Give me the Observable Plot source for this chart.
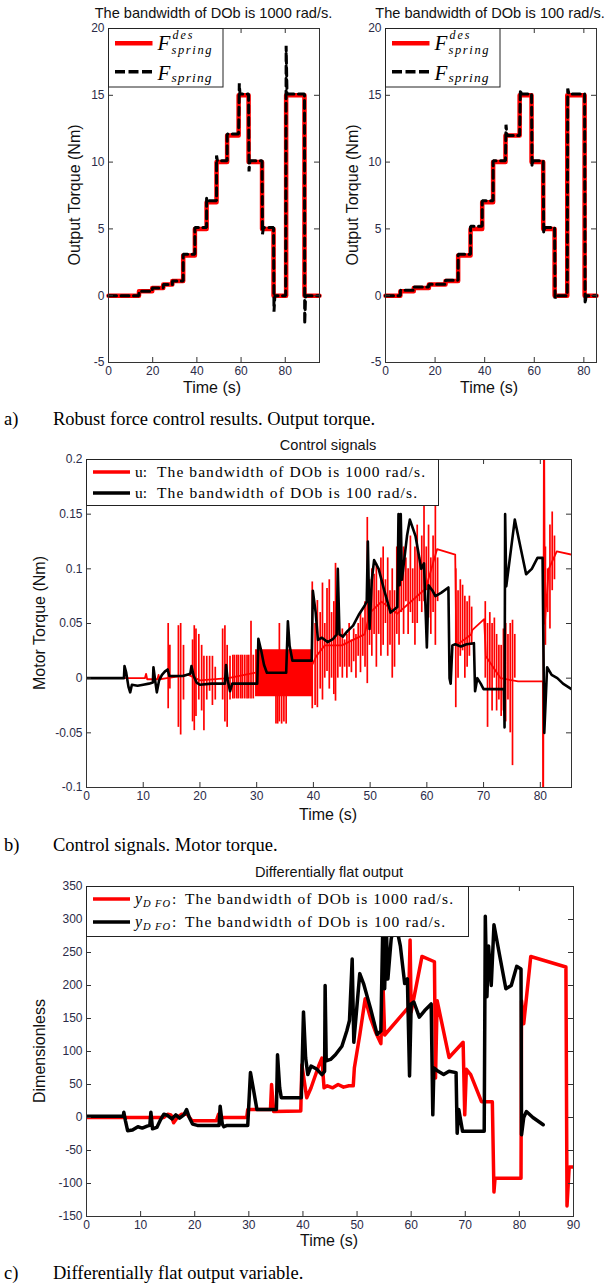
<!DOCTYPE html>
<html><head><meta charset="utf-8">
<script src="https://cdn.jsdelivr.net/npm/d3@7"></script>
<script src="https://cdn.jsdelivr.net/npm/@observablehq/plot@0.6"></script>
<style>
body{margin:0;background:#fff;}
#page{position:relative;width:605px;height:1283px;overflow:hidden;font-family:"Liberation Sans",Arial,sans-serif;background:#fff;}
.t{position:absolute;white-space:pre;line-height:1;color:#111;}
.cap{position:absolute;white-space:pre;line-height:1;font-family:"Liberation Serif","Times New Roman",serif;font-size:18.5px;color:#000;}
</style></head><body><div id="page"></div>
<script>
// ---------- DATA ----------
// (a) left: DOb bandwidth 1000 rad/s  [time s, torque Nm]
const fDes1000 = [[0,0],[13.8,0.33],[19.8,0.58],[24.8,0.83],[28.9,1.1],[33.8,3],[39.1,5],[44.4,7],[48.9,10],[53.7,12],[58.9,15],[63.4,10],[69.5,5],[74.7,0],[80.4,15],[88.7,0],[95.5,0]];
const fSpring1000 = [[0,0],[13.8,0],[13.8,0.33],[19.8,0.33],[19.8,0.58],[24.8,0.58],[24.8,0.83],[28.9,0.83],[28.9,1.1],[33.8,1.1],[33.8,3.1],[39.1,3.1],[39.1,5.1],[44.4,5.1],[44.4,7.3],[44.8,7.1],[48.9,7.1],[48.9,10.5],[49.3,10.1],[53.7,10.1],[53.7,12.1],[58.9,12.1],[59.2,15.9],[59.5,15.1],[63.4,15.1],[63.6,9.3],[64,10.1],[69.5,10.1],[69.7,4.6],[70.1,5.1],[74.7,5.1],[74.9,-1.2],[75.3,0],[80.2,0],[80.4,18.7],[80.8,15.1],[88.7,15.1],[88.8,-2.1],[89.2,0],[95.5,0]];
// (a) right: DOb bandwidth 100 rad/s
const fDes100 = [[0,0],[6,0.33],[11.4,0.58],[17.5,0.83],[24.2,1.1],[29.3,3],[34.3,5],[39,7],[43.4,10],[48.4,12],[54.1,15],[58.9,10],[63.6,5],[68.2,0],[73.3,15],[80.3,0],[85.1,0]];
const fSpring100 = [[0,0],[6,0],[6,0.4],[11.4,0.4],[11.4,0.65],[17.5,0.65],[17.5,0.85],[24.2,0.85],[24.2,1.15],[29.3,1.15],[29.3,3.1],[34.3,3.1],[34.3,5.2],[39,5.2],[39,7.1],[43.4,7.1],[43.4,10.1],[48.4,10.1],[48.6,12.8],[49,12],[54.1,12],[54.4,15.4],[54.8,15.1],[58.9,15.1],[59.1,9.7],[59.5,10.1],[63.6,10.1],[63.8,4.7],[64.2,5.1],[68.2,5.1],[68.4,-0.2],[68.8,0],[73.3,0],[73.5,15.5],[74,15.1],[80.3,15.1],[80.5,-0.6],[80.9,0],[85.1,0]];

// (b) control signals, motor torque [time s, Nm]
const u1000Line = [[0,0],[10.3,0],[10.5,0.004],[10.7,-0.001],[12.5,-0.001],[12.7,0.003],[12.9,-0.001],[14.2,0],[18,0.003],[20,-0.002],[25,0],[29.8,0.005],[39.6,0.01],[40.5,0.02],[42,0.03],[45,0.03],[49,0.04],[50,0.06],[52,0.07],[54.8,0.059],[59.8,0.082],[61.8,0.118],[65,0.113],[65.2,0.03],[67.8,0.04],[68,0.044],[70.1,0.054],[70.4,0.02],[73,0],[76.1,-0.003],[80.45,-0.003],[80.5,-0.15],[80.65,0.26],[80.8,0.05],[81.5,0.1],[82.9,0.116],[85.5,0.113]];
// oscillation bursts of the 1000 rad/s signal: [time, low, high]
const u1000Spikes = [[14.4,-0.028,0.05],[14.7,-0.01,0.03],[16.2,-0.045,0.048],[16.6,-0.052,0.05],[17.1,-0.02,0.03],[18.7,-0.04,0.035],[19.0,-0.048,0.048],[19.3,-0.035,0.045],[19.8,-0.02,0.04],[20.3,-0.03,0.03],[20.7,-0.048,0.02],[21.2,-0.02,0.02],[21.7,-0.012,0.02],[22.2,-0.025,0.02],[22.7,-0.02,0.01],[24.0,-0.02,0.045],[24.4,-0.04,0.048],[24.8,-0.045,0.03],[25.3,-0.02,0.02],[25.8,-0.019,0.021],[26.1,-0.019,0.021],[26.5,-0.019,0.021],[26.8,-0.019,0.021],[27.2,-0.019,0.021],[27.5,-0.019,0.021],[27.9,-0.019,0.021],[28.3,-0.019,0.021],[28.6,-0.019,0.021],[29.0,-0.019,0.052],[29.4,-0.019,0.021],[33.4,-0.042,0.02],[33.7,-0.042,0.02],[34.0,-0.04,0.05],[34.4,-0.042,0.02],[34.8,-0.04,0.02],[35.2,-0.042,0.02],[39.8,-0.028,0.088],[40.3,-0.025,0.05],[40.7,-0.027,0.071],[41.2,-0.01,0.06],[41.6,-0.02,0.087],[42.0,0.0,0.05],[42.4,0.006,0.082],[42.8,-0.01,0.09],[43.2,0.0,0.06],[43.6,-0.015,0.07],[43.9,-0.021,0.105],[44.3,0.0,0.05],[44.7,0.01,0.04],[45.1,0.0,0.045],[45.5,0.01,0.035],[45.9,0.0,0.04],[46.3,0.01,0.05],[46.7,0.005,0.035],[47.1,0.015,0.045],[47.5,0.0,0.04],[47.9,0.02,0.05],[48.3,0.005,0.06],[48.7,0.02,0.055],[49.1,0.01,0.07],[49.5,-0.005,0.147],[49.9,0.03,0.09],[50.3,0.02,0.1],[50.7,0.04,0.095],[51.1,0.01,0.105],[51.5,0.04,0.08],[51.9,0.02,0.11],[52.3,0.03,0.12],[52.7,0.05,0.09],[53.1,0.02,0.11],[53.5,0.03,0.08],[53.9,0.0,0.1],[54.3,0.01,0.08],[54.7,0.04,0.12],[55.1,0.03,0.09],[55.5,0.06,0.1],[55.9,0.04,0.12],[56.3,0.07,0.11],[56.7,0.04,0.1],[57.1,0.06,0.13],[57.5,0.05,0.1],[57.9,0.03,0.12],[58.3,0.05,0.14],[58.7,0.07,0.11],[59.1,0.06,0.13],[59.5,0.07,0.16],[59.9,0.08,0.12],[60.3,0.055,0.14],[60.7,0.04,0.11],[61.1,0.06,0.13],[61.5,0.03,0.16],[61.9,0.07,0.11],[65.1,-0.027,0.1],[65.5,0.0,0.08],[65.9,0.02,0.09],[66.3,0.025,0.085],[66.7,0.0,0.075],[67.1,0.01,0.07],[67.5,0.02,0.075],[67.9,0.03,0.065],[70.3,0.0,0.07],[70.7,-0.045,0.05],[71.1,-0.01,0.06],[71.5,-0.03,0.05],[71.9,0.0,0.055],[72.3,-0.03,0.04],[72.7,-0.02,0.03],[73.1,-0.035,0.03],[73.5,-0.03,0.045],[73.9,-0.04,0.05],[74.3,-0.02,0.04],[74.7,-0.05,0.05],[75.1,-0.08,0.053],[75.5,0.0,0.04],[80.9,0.03,0.12],[81.3,0.06,0.1],[81.7,0.045,0.14],[82.1,0.08,0.152],[82.5,0.09,0.13]];
// dense oscillation band 29.8–40 s of the 1000 rad/s signal
const u1000BandT = [29.8, 40.0];
const u1000BandLo = [-0.017, -0.017];
const u1000BandHi = [0.026, 0.026];
const u100Line = [[0,0],[6.6,0],[6.7,0.011],[7.0,0.005],[7.4,-0.008],[7.7,-0.013],[8.0,-0.006],[9,-0.007],[10,-0.006],[11,-0.005],[11.7,-0.004],[11.8,0.010],[12.1,-0.002],[12.4,-0.013],[12.8,-0.002],[13.3,0.003],[13.8,0.006],[14.3,0.008],[14.6,0.002],[16,0.002],[17,0.002],[18.3,0.004],[18.5,0.011],[18.9,0.002],[19.4,-0.004],[20,-0.006],[22,-0.005],[24.4,-0.005],[24.6,0.012],[24.9,-0.002],[25.3,-0.012],[25.7,-0.005],[30.1,-0.005],[30.3,0.036],[30.8,0.025],[31.3,0.012],[31.8,0.005],[35.2,0.005],[35.5,0.052],[35.8,0.03],[36.3,0.016],[39.7,0.016],[39.9,0.08],[40.4,0.06],[40.8,0.035],[41.5,0.037],[42.5,0.033],[43.5,0.036],[44.1,0.04],[44.3,0.1],[44.6,0.04],[45.2,0.038],[46,0.043],[47,0.048],[48,0.058],[49,0.066],[49.4,0.07],[49.6,0.125],[49.9,0.045],[50.3,0.09],[50.7,0.108],[51.5,0.1],[52.5,0.08],[53.6,0.06],[54.8,0.065],[55.0,0.15],[55.2,0.085],[55.4,0.15],[55.6,0.09],[56.5,0.13],[57,0.145],[58,0.13],[59,0.1],[59.5,0.105],[60,0.028],[60.3,0.085],[61,0.08],[61.5,0.075],[62.5,0.078],[63.8,0.083],[64,0.0],[64.2,-0.005],[64.5,0.03],[65,0.031],[66,0.029],[67,0.031],[68.3,0.032],[68.5,-0.012],[68.9,0.0],[69.5,-0.005],[70,-0.01],[73.6,-0.01],[73.7,-0.045],[73.8,0.15],[74,0.084],[75.5,0.145],[76.5,0.12],[77.5,0.095],[78.5,0.1],[79.5,0.11],[80.4,0.11],[80.7,-0.05],[81.2,0.01],[82,0.003],[83,0.0],[84,-0.005],[85.5,-0.01]];

// (c) differentially flat output [time s, dimensionless]
const y1000 = [[0,0],[14.3,0],[15,5],[15.6,4],[16.1,-8],[16.8,0],[17.6,5],[18.6,5],[19.5,-5],[24,-5],[24.4,5],[25,0],[29.6,0],[29.8,12],[34,12],[34.2,50],[34.6,9],[39.6,10],[39.8,80],[40.7,30],[41.5,45],[42.9,78],[43.5,90],[43.9,45],[44.5,48],[45.5,45],[46.5,50],[47.5,46],[48.5,48],[49.3,48],[49.5,75],[50.5,125],[51.5,180],[52.5,150],[53.5,128],[54.4,112],[54.8,200],[55.1,125],[59.5,167],[59.8,269],[60,160],[62,244],[64.3,236],[64.5,60],[64.8,177],[67,91],[69.6,114],[69.9,4],[70.2,73],[71,65],[73,24],[75,24],[75.3,-113],[75.5,-92],[80.3,-92],[80.4,177],[80.8,142],[82.1,244],[88.6,228],[88.8,-134],[89.2,-75],[90,-75]];
const y100 = [[0,2],[6.8,2],[6.9,8],[7.2,-5],[7.6,-20],[8.5,-19],[9.5,-14],[10.3,-16],[11.2,-13],[11.7,-12],[11.9,8],[12.2,-17],[13,-15],[13.7,-3],[14.3,5],[15,3],[15.8,-2],[16.5,4],[17.2,-1],[18,4],[18.5,12],[19,0],[19.6,-10],[20.5,-12],[24.5,-12],[24.7,17],[25.1,-10],[25.4,-14],[26,-12],[29.8,-12],[30.3,68],[30.8,45],[31.5,12],[35.1,12],[35.3,95],[35.7,45],[36,30],[39.7,30],[40.1,160],[40.5,90],[40.9,65],[41.5,78],[42.6,73],[43.5,65],[44,70],[44.1,200],[44.3,86],[45.1,88],[46,95],[47.2,108],[48.1,131],[48.6,147],[49.1,240],[49.4,114],[50.5,218],[51.2,203],[52.5,165],[53.7,126],[54.4,131],[54.8,310],[55.1,195],[55.4,290],[55.7,210],[56.3,270],[57,300],[58,260],[58.8,203],[59.3,210],[59.7,63],[60,172],[60.5,175],[61.5,152],[62.5,162],[63.7,172],[64,4],[64.2,75],[65,70],[66,65],[67,70],[68.3,68],[68.5,-24],[68.8,12],[69.5,-21],[73.5,-21],[73.7,305],[74,183],[74.3,260],[74.8,200],[75.3,292],[76.5,239],[77.5,195],[78.5,200],[79.5,229],[80.3,225],[80.4,-26],[80.8,0],[81.3,9],[82.5,0],[84.4,-11]];

// ticks
const xTicksA = [0,20,40,60,80];
const yTicksA = [-5,0,5,10,15,20];
const xTicksB = [0,10,20,30,40,50,60,70,80];
const yTicksB = [-0.1,-0.05,0,0.05,0.1,0.15,0.2];
const xTicksC = [0,10,20,30,40,50,60,70,80,90];
const yTicksC = [-150,-100,-50,0,50,100,150,200,250,300,350];

// ---------- DRAW ----------
const page = document.getElementById("page");
const P = arr => arr.map(([t, v]) => ({t, v}));
const ink = "#333";
const tickInk = "#2b2b48";

function chart({left, top, width, height, mt, mr, mb, ml, xd, yd, xt, yt, marks}) {
  const W = width - ml - mr, H = height - mt - mb, L = 5;
  const svg = Plot.plot({
    width, height, marginTop: mt, marginRight: mr, marginBottom: mb, marginLeft: ml,
    style: {background: "transparent", fontFamily: "'Liberation Sans', Arial, sans-serif", fontSize: "12px", overflow: "visible"},
    x: {domain: xd, label: null},
    y: {domain: yd, label: null},
    marks: [
      ...marks,
      Plot.frame({stroke: ink}),
      Plot.ruleX(xt, {x: d => d, insetTop: H - L, stroke: ink}),
      Plot.ruleX(xt, {x: d => d, insetBottom: H - L, stroke: ink}),
      Plot.ruleY(yt, {y: d => d, insetRight: W - L, stroke: ink}),
      Plot.ruleY(yt, {y: d => d, insetLeft: W - L, stroke: ink}),
      Plot.axisX(xt, {tickSize: 0, tickPadding: 4, tickFormat: d => String(d), color: tickInk, label: null}),
      Plot.axisY(yt, {tickSize: 0, tickPadding: 4, tickFormat: d => String(d), color: tickInk, label: null})
    ]
  });
  const div = document.createElement("div");
  div.style.cssText = `position:absolute;left:${left}px;top:${top}px;`;
  div.appendChild(svg);
  page.appendChild(div);
}

function text(str, x, y, {size = 13, anchor = "middle", rotate = 0, cls = "t", color} = {}) {
  const d = document.createElement("div");
  d.className = cls;
  d.textContent = str;
  d.style.left = x + "px";
  d.style.top = y + "px";
  if (cls === "t") d.style.fontSize = size + "px";
  if (color) d.style.color = color;
  const tx = anchor === "middle" ? "-50%" : "0";
  d.style.transform = `translate(${tx},-50%)`;
  if (rotate) d.style.transform = `translate(-50%,-50%) rotate(${rotate}deg)`;
  page.appendChild(d);
}

// (a) left
chart({left: 0, top: 0, width: 322, height: 400, mt: 28, mr: 3, mb: 38, ml: 108,
  xd: [0, 95.5], yd: [-5, 20], xt: xTicksA, yt: yTicksA,
  marks: [
    Plot.line(P(fDes1000), {x: "t", y: "v", curve: "step-after", stroke: "#f00", strokeWidth: 4.5}),
    Plot.line(P(fSpring1000), {x: "t", y: "v", stroke: "#000", strokeWidth: 3, strokeDasharray: "8,4.5", strokeLinejoin: "miter"})
  ]});
// (a) right
chart({left: 322, top: 0, width: 283, height: 400, mt: 28, mr: 9, mb: 38, ml: 63,
  xd: [0, 85.1], yd: [-5, 20], xt: xTicksA, yt: yTicksA,
  marks: [
    Plot.line(P(fDes100), {x: "t", y: "v", curve: "step-after", stroke: "#f00", strokeWidth: 4.5}),
    Plot.line(P(fSpring100), {x: "t", y: "v", stroke: "#000", strokeWidth: 3, strokeDasharray: "8,4.5", strokeLinejoin: "miter"})
  ]});
// (b)
const band = u1000BandT.map((t, i) => ({t, lo: u1000BandLo[i], hi: u1000BandHi[i]}));
const spikes = u1000Spikes.map(([t, lo, hi]) => ({t, lo, hi}));
chart({left: 0, top: 430, width: 605, height: 400, mt: 29, mr: 34, mb: 43, ml: 86,
  xd: [0, 85.5], yd: [-0.1, 0.2], xt: xTicksB, yt: yTicksB,
  marks: [
    Plot.areaY(band, {x: "t", y1: "lo", y2: "hi", fill: "#f00"}),
    Plot.ruleX(spikes, {x: "t", y1: "lo", y2: "hi", stroke: "#f00", strokeWidth: 1.7, clip: true}),
    Plot.line(P(u1000Line), {x: "t", y: "v", stroke: "#f00", strokeWidth: 1.8, clip: true}),
    Plot.line(P(u100Line), {x: "t", y: "v", stroke: "#000", strokeWidth: 2.6, clip: true})
  ]});
// (c)
chart({left: 0, top: 860, width: 605, height: 400, mt: 26, mr: 32, mb: 44, ml: 86,
  xd: [0, 90], yd: [-150, 350], xt: xTicksC, yt: yTicksC,
  marks: [
    Plot.line(P(y1000), {x: "t", y: "v", stroke: "#f00", strokeWidth: 3.5, clip: true}),
    Plot.line(P(y100), {x: "t", y: "v", stroke: "#000", strokeWidth: 3.5, clip: true})
  ]});

// titles
text("The bandwidth of DOb is 1000 rad/s.", 213.5, 13, {size: 14.6});
text("The bandwidth of DOb is 100 rad/s.", 490, 13, {size: 14.6});
text("Control signals", 328, 445, {size: 14.6});
text("Differentially flat output", 329, 872, {size: 14.6});
// axis labels
text("Time (s)", 212, 388, {size: 16});
text("Time (s)", 489, 388, {size: 16});
text("Output Torque (Nm)", 75, 195, {size: 16, rotate: -90});
text("Output Torque (Nm)", 353, 195, {size: 16, rotate: -90});
text("Time (s)", 328, 815, {size: 16});
text("Motor Torque (Nm)", 40, 623, {size: 16, rotate: -90});
text("Time (s)", 329, 1241, {size: 16});
text("Dimensionless", 40, 1051, {size: 16, rotate: -90});
// captions
text("a)", 4, 419, {cls: "cap", anchor: "start"});
text("Robust force control results. Output torque.", 53, 419, {cls: "cap", anchor: "start"});
text("b)", 4, 845, {cls: "cap", anchor: "start"});
text("Control signals. Motor torque.", 53, 845, {cls: "cap", anchor: "start"});
text("c)", 4, 1273, {cls: "cap", anchor: "start"});
text("Differentially flat output variable.", 53, 1273, {cls: "cap", anchor: "start"});

// legends
const serif = "'Liberation Serif','Times New Roman',serif";
function legendBox(left, top, w, h) {
  const svg = d3.create("svg").attr("width", w + 1).attr("height", h + 1)
    .style("position", "absolute").style("left", left + "px").style("top", top + "px")
    .style("font-family", serif);
  svg.append("rect").attr("x", 0.5).attr("y", 0.5).attr("width", w).attr("height", h)
    .attr("fill", "#fff").attr("stroke", "#222");
  page.appendChild(svg.node());
  return svg;
}
function legendF(left, top) {
  const s = legendBox(left, top, 114.5, 58.5);
  s.append("line").attr("x1", 7).attr("x2", 44.5).attr("y1", 15.3).attr("y2", 15.3).attr("stroke", "#f00").attr("stroke-width", 4.5);
  s.append("line").attr("x1", 7).attr("x2", 44.5).attr("y1", 43.7).attr("y2", 43.7).attr("stroke", "#000").attr("stroke-width", 3.5).attr("stroke-dasharray", "10,3.5");
  const it = (str, x, y, fs, len) => {
    const t = s.append("text").attr("x", x).attr("y", y).attr("font-size", fs).attr("font-style", "italic").text(str);
    if (len) t.attr("textLength", len).attr("lengthAdjust", "spacing");
  };
  it("F", 49.5, 21.5, 21); it("des", 64.5, 11, 12, 20); it("spring", 63.5, 26, 12.5, 40);
  it("F", 49.5, 51.5, 21); it("spring", 63.5, 54, 13.5, 40);
}
legendF(108, 28);
legendF(385, 28);

function legendU(left, top, w, h, mathFn, xText, rows) {
  const s = legendBox(left, top, w, h);
  rows.forEach(r => {
    s.append("line").attr("x1", 7).attr("x2", 44).attr("y1", r.ly).attr("y2", r.ly).attr("stroke", r.c).attr("stroke-width", 3.5);
    mathFn(s, r.by);
    s.append("text").attr("x", xText).attr("y", r.by).attr("font-size", 15.5)
      .attr("textLength", r.len).attr("lengthAdjust", "spacing").text(r.txt);
  });
}
legendU(86, 459, 352, 46, (s, by) => {
  s.append("text").attr("x", 49).attr("y", by).attr("font-size", 15.5).text("u:");
}, 71, [
  {ly: 13, by: 18, c: "#f00", txt: "The bandwidth of DOb is 1000 rad/s.", len: 268},
  {ly: 34, by: 39, c: "#000", txt: "The bandwidth of DOb is 100 rad/s.", len: 260}
]);
legendU(86, 886, 382, 50, (s, by) => {
  s.append("text").attr("x", 49).attr("y", by).attr("font-size", 16).attr("font-style", "italic").text("y");
  s.append("text").attr("x", 57).attr("y", by + 3).attr("font-size", 10.5).attr("font-style", "italic")
    .attr("textLength", 27).attr("lengthAdjust", "spacing").text("D FO");
  s.append("text").attr("x", 86).attr("y", by).attr("font-size", 15.5).text(":");
}, 99, [
  {ly: 13, by: 18, c: "#f00", txt: "The bandwidth of DOb is 1000 rad/s.", len: 268},
  {ly: 36, by: 41, c: "#000", txt: "The bandwidth of DOb is 100 rad/s.", len: 260}
]);
</script></body></html>
